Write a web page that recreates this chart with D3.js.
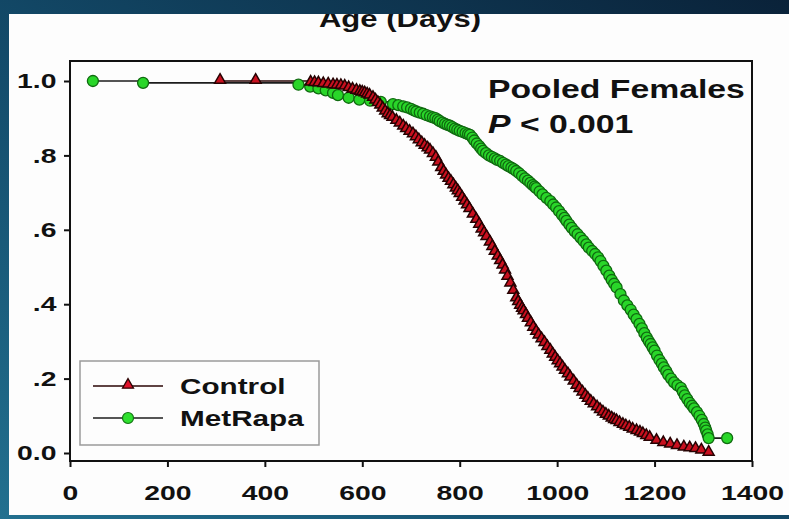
<!DOCTYPE html>
<html>
<head>
<meta charset="utf-8">
<script src="https://cdn.jsdelivr.net/npm/d3@7"></script>
<style>
  body { margin: 0; padding: 0; overflow: hidden; }
  text { font-family: "Liberation Sans", Arial, sans-serif; font-weight: bold; fill: #111; }
</style>
</head>
<body>
<div id="chart"></div>
<script>
// survival data (days, fraction alive)
var controlDays = [308, 381, 494, 502, 510, 520, 530, 540, 548, 556, 564, 572, 580, 588, 595, 600, 605, 610, 615, 622,
                   627, 632, 637, 642, 647, 652, 657, 662, 670, 677, 684, 690, 697, 704, 710, 716, 722, 728, 734, 739,
                   745, 751, 756, 762, 767, 772, 777, 782, 787, 792, 796, 800, 805, 810, 815, 820, 827, 834, 840, 845,
                   850, 855, 862, 867, 872, 878, 883, 888, 893, 898, 904, 910, 916, 920, 924, 928, 931, 936, 940, 946,
                   951, 957, 962, 968, 974, 980, 986, 991, 996, 1001, 1006, 1011, 1016, 1022, 1027, 1034, 1040, 1046,
                   1052, 1058, 1063, 1069, 1075, 1082, 1088, 1094, 1100, 1106, 1112, 1117, 1122, 1128, 1135, 1141, 1148,
                   1155, 1163, 1170, 1176, 1183, 1190, 1204, 1218, 1232, 1246, 1260, 1272, 1284, 1296, 1311];
var controlSurv = [1.0, 1.0, 0.995, 0.994, 0.993, 0.991, 0.99, 0.988, 0.987, 0.986, 0.984, 0.98, 0.976, 0.973, 0.97,
                   0.968, 0.966, 0.963, 0.96, 0.954, 0.947, 0.94, 0.933, 0.925, 0.917, 0.91, 0.905, 0.9, 0.892, 0.885,
                   0.877, 0.87, 0.863, 0.856, 0.848, 0.84, 0.832, 0.825, 0.818, 0.812, 0.803, 0.793, 0.78, 0.765, 0.755,
                   0.745, 0.736, 0.728, 0.719, 0.71, 0.703, 0.695, 0.685, 0.675, 0.665, 0.655, 0.64, 0.626, 0.613, 0.6,
                   0.59, 0.58, 0.565, 0.553, 0.54, 0.527, 0.515, 0.503, 0.49, 0.473, 0.455, 0.435, 0.415, 0.405, 0.395,
                   0.387, 0.38, 0.37, 0.36, 0.348, 0.336, 0.325, 0.315, 0.305, 0.295, 0.284, 0.274, 0.264, 0.255, 0.246,
                   0.238, 0.229, 0.22, 0.211, 0.202, 0.191, 0.18, 0.171, 0.162, 0.153, 0.145, 0.137, 0.13, 0.122, 0.115,
                   0.108, 0.102, 0.097, 0.092, 0.088, 0.085, 0.08, 0.075, 0.071, 0.067, 0.062, 0.058, 0.054, 0.05,
                   0.045, 0.04, 0.032, 0.026, 0.022, 0.018, 0.014, 0.012, 0.01, 0.006, 0.0];

var metDays = [47, 150, 469, 493, 510, 525, 540, 550, 572, 594, 616, 638, 663, 674, 684, 692, 700, 706, 711, 718, 725,
               732, 739, 745, 750, 755, 759, 765, 770, 775, 780, 785, 790, 795, 800, 806, 812, 817, 821, 826, 830, 835,
               840, 844, 848, 854, 860, 866, 872, 877, 883, 889, 895, 900, 906, 911, 916, 922, 928, 934, 940, 945, 950,
               954, 957, 964, 970, 978, 986, 992, 998, 1004, 1010, 1015, 1019, 1025, 1030, 1036, 1042, 1048, 1054,
               1060, 1065, 1072, 1078, 1084, 1089, 1095, 1101, 1107, 1112, 1117, 1122, 1130, 1137, 1144, 1151, 1157,
               1163, 1169, 1174, 1179, 1184, 1188, 1192, 1196, 1200, 1205, 1210, 1215, 1219, 1224, 1228, 1234, 1240,
               1247, 1254, 1258, 1262, 1267, 1272, 1277, 1281, 1287, 1292, 1297, 1301, 1304, 1306, 1309, 1311, 1349];
var metSurv = [1.0, 0.995, 0.99, 0.985, 0.98, 0.975, 0.968, 0.962, 0.955, 0.95, 0.947, 0.944, 0.938, 0.935, 0.932,
               0.929, 0.925, 0.921, 0.918, 0.915, 0.912, 0.908, 0.905, 0.902, 0.9, 0.896, 0.892, 0.888, 0.885, 0.882,
               0.88, 0.876, 0.872, 0.869, 0.866, 0.863, 0.86, 0.857, 0.855, 0.848, 0.84, 0.832, 0.825, 0.818, 0.812,
               0.806, 0.8, 0.796, 0.792, 0.788, 0.785, 0.78, 0.775, 0.771, 0.767, 0.763, 0.758, 0.752, 0.745, 0.738,
               0.732, 0.726, 0.72, 0.716, 0.712, 0.703, 0.695, 0.686, 0.677, 0.668, 0.66, 0.65, 0.64, 0.632, 0.624,
               0.614, 0.605, 0.596, 0.588, 0.579, 0.57, 0.561, 0.552, 0.543, 0.535, 0.526, 0.516, 0.503, 0.49, 0.477,
               0.465, 0.455, 0.445, 0.427, 0.41, 0.397, 0.385, 0.372, 0.36, 0.347, 0.335, 0.322, 0.31, 0.301, 0.293,
               0.284, 0.275, 0.262, 0.25, 0.24, 0.23, 0.22, 0.21, 0.2, 0.19, 0.182, 0.175, 0.165, 0.155, 0.145, 0.135,
               0.127, 0.12, 0.11, 0.1, 0.089, 0.078, 0.068, 0.06, 0.05, 0.04, 0.04];

var xTicks = [0, 200, 400, 600, 800, 1000, 1200, 1400];
var yTicks = [0, 0.2, 0.4, 0.6, 0.8, 1.0];
var yTickLabels = ["0.0", ".2", ".4", ".6", ".8", "1.0"];
var seriesNames = ["Control", "MetRapa"];

var W = 789, H = 519;
var stretchX = 1.35;   // the photo of the slide is squashed sideways, text looks wide

var svg = d3.select("#chart")
            .append("svg")
            .attr("width", W)
            .attr("height", H);

var defs = svg.append("defs");
var grad = defs.append("linearGradient")
               .attr("id", "bg")
               .attr("x1", 0).attr("y1", 1).attr("x2", 1).attr("y2", 0);
grad.append("stop").attr("offset", "0%").attr("stop-color", "#22708f");
grad.append("stop").attr("offset", "45%").attr("stop-color", "#134b6a");
grad.append("stop").attr("offset", "100%").attr("stop-color", "#0a2239");

defs.append("clipPath").attr("id", "panelClip")
    .append("rect").attr("x", 9).attr("y", 14).attr("width", W - 9).attr("height", 501);

svg.append("rect").attr("width", W).attr("height", H).style("fill", "url(#bg)");
svg.append("rect")
   .attr("x", 9).attr("y", 14)
   .attr("width", W - 9).attr("height", 501)
   .style("fill", "#fdfdfd");

// title cut off by the top of the panel
svg.append("g")
   .attr("clip-path", "url(#panelClip)")
   .append("text")
   .attr("transform", "translate(400,27) scale(" + stretchX + ",1)")
   .style("text-anchor", "middle")
   .style("font-size", "23px")
   .text("Age (Days)");

var x = d3.scaleLinear().domain([0, 1400]).range([70, 752]);
var y = d3.scaleLinear().domain([0, 1]).range([453, 81]);
var frameTop = 61, frameBottom = 461;

// frame
svg.append("rect")
   .attr("x", x(0)).attr("y", frameTop)
   .attr("width", x(1400) - x(0)).attr("height", frameBottom - frameTop)
   .style("fill", "none")
   .style("stroke", "#111")
   .style("stroke-width", 2);

var yAxis = svg.append("g")
   .attr("transform", "translate(" + x(0) + ",0)")
   .call(d3.axisLeft(y).tickValues(yTicks).tickSize(6).tickPadding(4)
          .tickFormat(function (d, i) { return yTickLabels[i]; }));

var xAxis = svg.append("g")
   .attr("transform", "translate(0," + frameBottom + ")")
   .call(d3.axisBottom(x).tickValues(xTicks).tickSize(6).tickPadding(18).tickFormat(d3.format("d")));

[xAxis, yAxis].forEach(function (ax) {
    ax.select(".domain").remove();
    ax.selectAll(".tick line").style("stroke", "#111").style("stroke-width", 2);
    ax.selectAll(".tick text")
      .style("font-size", "21px")
      .style("font-family", "'Liberation Sans', Arial, sans-serif")
      .style("font-weight", "bold")
      .style("fill", "#111")
      .attr("transform", "scale(" + stretchX + ",1)");
});

// survival curves
function toPoints(days, surv) {
    return days.map(function (d, i) { return [d, surv[i]]; });
}
var lineGenerator = d3.line()
    .x(function (d) { return x(d[0]); })
    .y(function (d) { return y(d[1]); })
    .curve(d3.curveStepAfter);

var metPts = toPoints(metDays, metSurv);
var ctrlPts = toPoints(controlDays, controlSurv);

svg.append("path")
   .attr("d", lineGenerator(metPts))
   .style("fill", "none")
   .style("stroke", "#1c1c1c")
   .style("stroke-width", 1.6);

svg.append("path")
   .attr("d", lineGenerator(ctrlPts))
   .style("fill", "none")
   .style("stroke", "#2a0505")
   .style("stroke-width", 1.6);

svg.append("g")
   .attr("class", "metMarkers")
   .selectAll("circle")
   .data(metPts)
   .enter()
   .append("circle")
   .attr("cx", function (d) { return x(d[0]); })
   .attr("cy", function (d) { return y(d[1]); })
   .attr("r", 5.5)
   .style("fill", "#29d629")
   .style("stroke", "#106a10")
   .style("stroke-width", 1.3);

var tri = d3.symbol().type(d3.symbolTriangle).size(52);
svg.append("g")
   .attr("class", "ctrlMarkers")
   .selectAll("path")
   .data(ctrlPts)
   .enter()
   .append("path")
   .attr("d", tri)
   .attr("transform", function (d) { return "translate(" + x(d[0]) + "," + (y(d[1]) - 1) + ")"; })
   .style("fill", "#c8101f")
   .style("stroke", "#260202")
   .style("stroke-width", 1.5);

// annotation
svg.append("text")
   .attr("transform", "translate(488,98) scale(" + stretchX + ",1)")
   .style("font-size", "25px")
   .text("Pooled Females");

var pText = svg.append("text")
   .attr("transform", "translate(488,133) scale(" + stretchX + ",1)")
   .style("font-size", "25px");
pText.append("tspan").style("font-style", "italic").text("P");
pText.append("tspan").text(" < 0.001");

// legend
var legend = svg.append("g").attr("class", "legend");
legend.append("rect")
      .attr("x", 80).attr("y", 361)
      .attr("width", 239).attr("height", 84)
      .style("fill", "#fdfdfd")
      .style("stroke", "#9a9a9a")
      .style("stroke-width", 1.5);

var legendRows = legend.selectAll("g.row")
      .data(seriesNames)
      .enter()
      .append("g")
      .attr("class", "row")
      .attr("transform", function (d, i) { return "translate(0," + (386 + i * 32) + ")"; });

legendRows.append("line")
      .attr("x1", 93).attr("x2", 163)
      .style("stroke", function (d, i) { return i == 0 ? "#2a0505" : "#1c1c1c"; })
      .style("stroke-width", 1.6);

legendRows.each(function (d, i) {
    var g = d3.select(this);
    if (i == 0) {
        g.append("path").attr("d", tri)
         .attr("transform", "translate(128,-1)")
         .style("fill", "#e0122a").style("stroke", "#2e0303").style("stroke-width", 1.3);
    } else {
        g.append("circle").attr("cx", 128).attr("cy", 0).attr("r", 5.5)
         .style("fill", "#2fe02f").style("stroke", "#137313").style("stroke-width", 1.2);
    }
});

legendRows.append("text")
      .attr("transform", "translate(180,8) scale(" + stretchX + ",1)")
      .style("font-size", "22px")
      .text(function (d) { return d; });
</script>
</body>
</html>
